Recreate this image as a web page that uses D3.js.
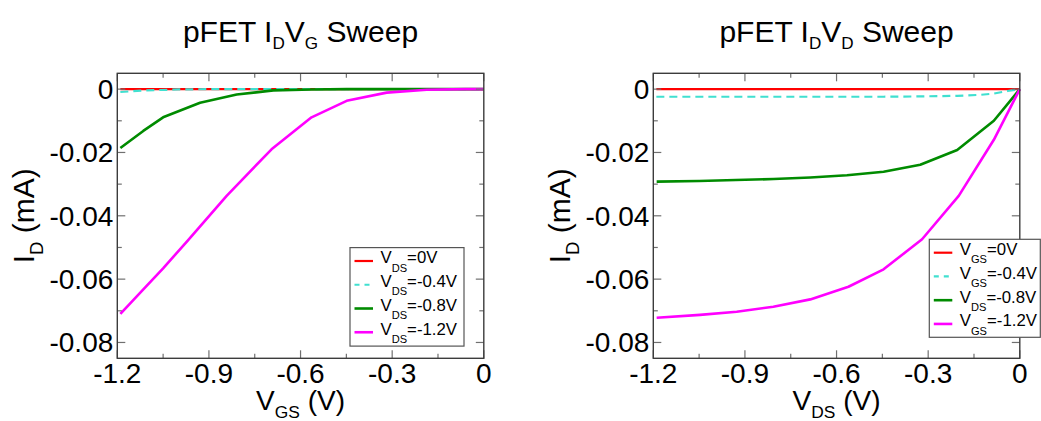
<!DOCTYPE html>
<html>
<head>
<meta charset="utf-8">
<script src="https://cdn.jsdelivr.net/npm/d3@7"></script>
<style>
  body { margin: 0; background: #fff; }
  svg { display: block; font-family: "Liberation Sans", Arial, Helvetica, sans-serif; }
</style>
</head>
<body>
<svg id="chart" width="1041" height="421"></svg>
<script>
// ---- shared axis definitions ----
const xDomain = [-1.2, 0];
const yDomain = [-0.085, 0.005];
const xMajorTicks = [-1.2, -0.9, -0.6, -0.3, 0];
const xMinorTicks = [-1.05, -0.75, -0.45, -0.15];
const xTickLabels = ["-1.2", "-0.9", "-0.6", "-0.3", "0"];
const yMajorTicks = [0, -0.02, -0.04, -0.06, -0.08];
const yMinorTicks = [-0.01, -0.03, -0.05, -0.07];
const yTickLabels = ["0", "-0.02", "-0.04", "-0.06", "-0.08"];

const seriesColors = ["#ff0000", "#40e0d0", "#008b00", "#ff00ff"];
const seriesDash = [null, "8,5", null, null];
const seriesWidth = [2.2, 2.2, 2.6, 2.6];

// ---- I_D vs V_GS (mA), one curve per V_DS ----
const idvgVds0X   = [-1.19, 0];
const idvgVds0Y   = [0, 0];
const idvgVds04X  = [-1.19, -1.104, -1.0, -0.9, 0];
const idvgVds04Y  = [-0.0009, -0.0004, -0.0001, 0, 0];
const idvgVds08X  = [-1.19, -1.115, -1.05, -0.929, -0.809, -0.689, -0.564, -0.449, 0];
const idvgVds08Y  = [-0.0186, -0.0132, -0.0089, -0.0043, -0.0017, -0.0004, -0.0001, 0, 0];
const idvgVds12X  = [-1.19, -1.104, -1.05, -0.973, -0.842, -0.695, -0.564, -0.449, -0.318, -0.187, -0.06, 0];
const idvgVds12Y  = [-0.0710, -0.0621, -0.0566, -0.0482, -0.0337, -0.0190, -0.0089, -0.0037, -0.0011, -0.0002, 0, 0];

// ---- I_D vs V_DS (mA), one curve per V_GS ----
const idvdVgs0X   = [-1.19, 0];
const idvdVgs0Y   = [0, 0];
const idvdVgs04X  = [-1.19, -0.806, -0.446, -0.326, -0.205, -0.128, -0.085, -0.04, 0];
const idvdVgs04Y  = [-0.0024, -0.0024, -0.0024, -0.0023, -0.0021, -0.0018, -0.0014, -0.0006, 0];
const idvdVgs08X  = [-1.189, -1.05, -0.93, -0.806, -0.686, -0.566, -0.446, -0.326, -0.205, -0.085, 0];
const idvdVgs08Y  = [-0.0292, -0.0290, -0.0287, -0.0284, -0.0279, -0.0272, -0.0261, -0.0239, -0.0192, -0.0100, 0];
const idvdVgs12X  = [-1.189, -1.047, -0.927, -0.807, -0.686, -0.561, -0.446, -0.32, -0.2, -0.085, 0];
const idvdVgs12Y  = [-0.0722, -0.0713, -0.0703, -0.0687, -0.0664, -0.0624, -0.0569, -0.0474, -0.0337, -0.0160, 0];

// Rich-text pieces: [text, isSubscript]
const leftTitle  = [["pFET I", false], ["D", true], ["V", false], ["G", true], [" Sweep", false]];
const rightTitle = [["pFET I", false], ["D", true], ["V", false], ["D", true], [" Sweep", false]];
const yTitle     = [["I", false], ["D", true], [" (mA)", false]];
const leftXTitle  = [["V", false], ["GS", true], [" (V)", false]];
const rightXTitle = [["V", false], ["DS", true], [" (V)", false]];
const leftLegend = [
  [["V", false], ["DS", true], ["=0V", false]],
  [["V", false], ["DS", true], ["=-0.4V", false]],
  [["V", false], ["DS", true], ["=-0.8V", false]],
  [["V", false], ["DS", true], ["=-1.2V", false]]
];
const rightLegend = [
  [["V", false], ["GS", true], ["=0V", false]],
  [["V", false], ["GS", true], ["=-0.4V", false]],
  [["V", false], ["DS", true], ["=-0.8V", false]],
  [["V", false], ["GS", true], ["=-1.2V", false]]
];

const svg = d3.select("#chart");
const W = 366.5, H = 285;
const plotTop = 73.3;

// Text with subscripts; subScale sets subscript size, subShift its drop (in em of the main size)
function richText(sel, parts, size, subScale, subShift) {
  const sub = size * subScale, shift = size * subShift;
  let down = false;
  parts.forEach(([t, isSub]) => {
    const ts = sel.append("tspan").text(t).attr("font-size", isSub ? sub : size);
    if (isSub && !down) { ts.attr("dy", shift); down = true; }
    else if (!isSub && down) { ts.attr("dy", -shift); down = false; }
  });
  return sel;
}

function panel(left, series, title, xTitle, legendItems, legendBox) {
  const x = d3.scaleLinear().domain(xDomain).range([0, W]);
  const y = d3.scaleLinear().domain(yDomain).range([H, 0]);
  const g = svg.append("g").attr("transform", `translate(${left},${plotTop})`);

  // curves
  const line = d3.line().x(d => x(d[0])).y(d => y(d[1]));
  series.forEach((s, i) => {
    g.append("path")
      .datum(d3.zip(s[0], s[1]))
      .attr("d", line)
      .attr("fill", "none")
      .attr("stroke", seriesColors[i])
      .attr("stroke-width", seriesWidth[i])
      .attr("stroke-dasharray", seriesDash[i])
      .attr("stroke-linejoin", "round");
  });

  // inward ticks on all four sides
  const tk = g.append("g").attr("stroke", "#707070").attr("stroke-width", 1.2);
  const addX = (vals, len) => vals.forEach(v => {
    tk.append("line").attr("x1", x(v)).attr("x2", x(v)).attr("y1", H).attr("y2", H - len);
    tk.append("line").attr("x1", x(v)).attr("x2", x(v)).attr("y1", 0).attr("y2", len);
  });
  const addY = (vals, len) => vals.forEach(v => {
    tk.append("line").attr("y1", y(v)).attr("y2", y(v)).attr("x1", 0).attr("x2", len);
    tk.append("line").attr("y1", y(v)).attr("y2", y(v)).attr("x1", W).attr("x2", W - len);
  });
  addX(xMajorTicks, 8); addX(xMinorTicks, 4.5);
  addY(yMajorTicks, 8); addY(yMinorTicks, 4.5);

  // frame
  g.append("rect").attr("width", W).attr("height", H)
    .attr("fill", "none").attr("stroke", "#3c3c3c").attr("stroke-width", 1.4);

  // tick labels
  g.selectAll(".xl").data(xMajorTicks).join("text")
    .attr("x", d => x(d)).attr("y", H + 25)
    .attr("text-anchor", "middle").attr("font-size", 28)
    .text((d, i) => xTickLabels[i]);
  g.selectAll(".yl").data(yMajorTicks).join("text")
    .attr("x", -4).attr("y", d => y(d) + 10)
    .attr("text-anchor", "end").attr("font-size", 28)
    .text((d, i) => yTickLabels[i]);

  // titles
  richText(g.append("text").attr("x", W / 2).attr("y", 42 - plotTop)
    .attr("text-anchor", "middle"), title, 30, 0.57, 0.23);
  richText(g.append("text").attr("x", W / 2).attr("y", 410 - plotTop)
    .attr("text-anchor", "middle"), xTitle, 28, 0.62, 0.3);
  richText(g.append("text")
    .attr("transform", `translate(-83.5,${H / 2}) rotate(-90)`)
    .attr("text-anchor", "middle"), yTitle, 30, 0.62, 0.3);

  // legend
  const lg = g.append("g").attr("transform", `translate(${legendBox.x},${legendBox.y})`);
  lg.append("rect").attr("width", legendBox.w).attr("height", legendBox.h)
    .attr("fill", "#fff").attr("stroke", "#555").attr("stroke-width", 1.2);
  legendItems.forEach((item, i) => {
    const ly = legendBox.first + i * 23.75;
    lg.append("line").attr("x1", 4.5).attr("x2", 23).attr("y1", ly).attr("y2", ly)
      .attr("stroke", seriesColors[i]).attr("stroke-width", seriesWidth[i])
      .attr("stroke-dasharray", seriesDash[i] ? "5,5" : null);
    richText(lg.append("text").attr("x", 30.5).attr("y", ly + 2.5), item, 16.8, 0.66, 0.48);
  });
}

panel(117.3,
  [[idvgVds0X, idvgVds0Y], [idvgVds04X, idvgVds04Y], [idvgVds08X, idvgVds08Y], [idvgVds12X, idvgVds12Y]],
  leftTitle, leftXTitle, leftLegend,
  { x: 232.7, y: 174.3, w: 114, h: 98.5, first: 13.4 });

panel(653.3,
  [[idvdVgs0X, idvdVgs0Y], [idvdVgs04X, idvdVgs04Y], [idvdVgs08X, idvdVgs08Y], [idvdVgs12X, idvdVgs12Y]],
  rightTitle, rightXTitle, rightLegend,
  { x: 276, y: 166, w: 111, h: 98, first: 13.4 });
</script>
</body>
</html>
